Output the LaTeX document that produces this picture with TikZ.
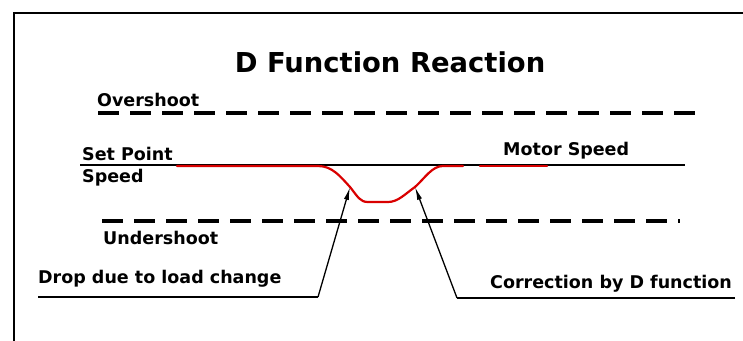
\documentclass[tikz,border=0pt]{standalone}
\usepackage{fontspec}
\setmainfont{DejaVu Sans}
\usetikzlibrary{arrows.meta}
\begin{document}
\begin{tikzpicture}[x=1pt,y=-1pt,
  lbl/.style={anchor=base west,inner sep=0pt,font=\fontsize{17.5}{20}\selectfont\bfseries},
  ttl/.style={anchor=base,inner sep=0pt,font=\fontsize{27.4}{32}\selectfont\bfseries},
  limitline/.style={line width=3.3pt,dash pattern=on 21pt off 11pt},
  setline/.style={line width=2.2pt,black},
  speedline/.style={line width=2.2pt,red!85!black,line cap=round,line join=round},
  underl/.style={line width=1.8pt,black},
  pointer/.style={line width=1.3pt,black,-{Latex[length=13pt,width=5pt]}},
  frame/.style={line width=2.7pt,black}]
\useasboundingbox (0,0) rectangle (743,340);
% frame
\draw[frame] (14,341) -- (14,13) -- (744,13);
% title
\node[ttl] (title) at (390,72) {D Function Reaction};
% overshoot
\node[lbl] (over) at (97,106) {Overshoot};
\coordinate (ovA) at (98,113);
\coordinate (ovB) at (698,113);
\draw[limitline] (ovA) -- (ovB);
% set point
\node[lbl] (sp) at (82,160) {Set Point};
\node[lbl] (speed) at (82,182) {Speed};
\node[lbl] (motor) at (503,155) {Motor Speed};
\coordinate (spA) at (80,165);
\coordinate (spB) at (685,165);
\draw[setline] (spA) -- (spB);
% motor speed curve
\coordinate (c0) at (177,166);
\coordinate (c1) at (318,166);
\coordinate (dropP) at (350,187);
\coordinate (bot1) at (368,202);
\coordinate (bot2) at (388,202);
\coordinate (corrP) at (415,187);
\coordinate (c2) at (443,166);
\coordinate (c3) at (463,166);
\coordinate (c4) at (480,166);
\coordinate (c5) at (547,166);
\draw[speedline] (c0) -- (c1) .. controls (332,166) and (340,176) .. (dropP)
  .. controls (358,197) and (360,202) .. (bot1) -- (bot2)
  .. controls (398,202) and (405,194) .. (corrP)
  .. controls (425,178) and (432,166) .. (c2) -- (c3);
\draw[speedline] (c4) -- (c5);
% undershoot
\coordinate (unA) at (102,221);
\coordinate (unB) at (680,221);
\draw[limitline] (unA) -- (unB);
\node[lbl] (under) at (103,244) {Undershoot};
% labels with pointers
\node[lbl] (drop) at (38,283) {Drop due to load change};
\node[lbl] (corr) at (490,288) {Correction by D function};
\coordinate (dropL) at (38,297);
\coordinate (dropK) at (318,297);
\coordinate (corrR) at (735,298);
\coordinate (corrK) at (457,298);
\draw[underl] (dropL) -- (dropK);
\draw[underl] (corrR) -- (corrK);
\draw[pointer] (dropK) -- (dropP);
\draw[pointer] (corrK) -- (corrP);
\end{tikzpicture}
\end{document}
